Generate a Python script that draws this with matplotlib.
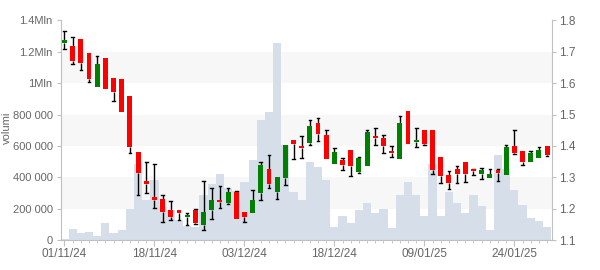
import matplotlib
matplotlib.use("Agg")
import matplotlib.pyplot as plt
import numpy as np

plt.rcParams['font.family'] = ['Liberation Sans', 'DejaVu Sans']

# ---- data ----
opens = [1.727, 1.719, 1.741, 1.697, 1.589, 1.681, 1.617, 1.613, 1.559, 1.380,
         1.287, 1.238, 1.232, 1.196, 1.196, 1.172, 1.196, 1.148, 1.195, 1.229,
         1.217, 1.252, 1.188, 1.185, 1.249, 1.325, 1.253, 1.297, 1.418, 1.401,
         1.409, 1.472, 1.434, 1.342, 1.354, 1.386, 1.316, 1.336, 1.433, 1.424,
         1.385, 1.358, 1.511, 1.413, 1.450, 1.450, 1.364, 1.306, 1.325, 1.348,
         1.325, 1.310, 1.299, 1.322, 1.308, 1.401, 1.383, 1.350, 1.361, 1.401]
closes = [1.737, 1.672, 1.666, 1.614, 1.661, 1.582, 1.573, 1.509, 1.397, 1.313,
          1.278, 1.227, 1.188, 1.173, 1.186, 1.181, 1.153, 1.188, 1.228, 1.222,
          1.252, 1.166, 1.173, 1.228, 1.338, 1.278, 1.300, 1.402, 1.406, 1.393,
          1.465, 1.438, 1.358, 1.382, 1.339, 1.336, 1.361, 1.444, 1.426, 1.400,
          1.377, 1.472, 1.406, 1.419, 1.405, 1.323, 1.304, 1.281, 1.310, 1.310,
          1.319, 1.322, 1.310, 1.313, 1.396, 1.377, 1.349, 1.376, 1.386, 1.370]
highs = [1.766, 1.747, 1.741, 1.697, 1.686, 1.681, 1.617, 1.613, 1.559, 1.380,
         1.350, 1.343, 1.244, 1.225, 1.196, 1.185, 1.199, 1.289, 1.266, 1.273,
         1.266, 1.256, 1.188, 1.260, 1.350, 1.370, 1.300, 1.402, 1.418, 1.431,
         1.482, 1.488, 1.450, 1.392, 1.360, 1.386, 1.365, 1.450, 1.456, 1.436,
         1.399, 1.497, 1.511, 1.456, 1.450, 1.450, 1.364, 1.321, 1.337, 1.348,
         1.327, 1.329, 1.327, 1.327, 1.403, 1.450, 1.383, 1.385, 1.396, 1.401]
lows = [1.710, 1.660, 1.641, 1.603, 1.589, 1.582, 1.544, 1.509, 1.379, 1.244,
        1.250, 1.201, 1.157, 1.164, 1.164, 1.148, 1.150, 1.132, 1.166, 1.202,
        1.214, 1.166, 1.158, 1.185, 1.228, 1.266, 1.230, 1.276, 1.358, 1.363,
        1.403, 1.416, 1.358, 1.342, 1.324, 1.304, 1.313, 1.336, 1.404, 1.379,
        1.365, 1.358, 1.406, 1.396, 1.404, 1.311, 1.282, 1.262, 1.282, 1.286,
        1.306, 1.295, 1.299, 1.289, 1.308, 1.374, 1.340, 1.350, 1.361, 1.369]
volumes = [9000, 68000, 43000, 49000, 28000, 107000, 43000, 62000, 200000, 483000,
           253000, 380000, 209000, 189000, 127000, 90000, 85000, 285000, 356000, 423000,
           331000, 312000, 373000, 508000, 768000, 815000, 1259000, 604000, 309000, 252000,
           499000, 463000, 380000, 85000, 156000, 107000, 194000, 235000, 171000, 198000,
           77000, 284000, 367000, 284000, 156000, 482000, 156000, 303000, 239000, 175000,
           284000, 220000, 66000, 540000, 450000, 322000, 226000, 143000, 124000, 85000]
date_tick_idx = [0, 11, 22, 33, 44, 55]
date_tick_labels = ['01/11/24', '18/11/24', '03/12/24', '18/12/24', '09/01/25', '24/01/25']
vol_ticks = [0, 200000, 400000, 600000, 800000, 1000000, 1200000, 1400000]
vol_tick_labels = ['0', '200 000', '400 000', '600 000', '800 000', '1Mln', '1.2Mln', '1.4Mln']
price_ticks = [1.1, 1.2, 1.3, 1.4, 1.5, 1.6, 1.7, 1.8]

# ---- style ----
TXT = '#666666'
AXC = '#c0c0c0'
UP = '#008000'
DOWN = '#ff0000'
VOLC = '#d6dfe9'
BAND = '#f7f7f7'

fig = plt.figure(figsize=(6, 2.7), dpi=100)
ax = fig.add_axes([0.1017, 0.1111, 0.8183, 0.8130])
x = np.arange(len(volumes))

# alternating bands
for i in range(1, len(vol_ticks) - 1, 2):
    ax.axhspan(vol_ticks[i], vol_ticks[i + 1], color=BAND, zorder=0, lw=0)

ax.bar(x, volumes, width=1.0, color=VOLC, zorder=1, lw=0)
ax.set_ylim(0, 1400000)
ax.set_xlim(-0.42, 59.6)
ax.set_yticks(vol_ticks)
ax.set_yticklabels(vol_tick_labels)
fig.text(7 / 600, 1 - 128 / 270, 'volumi', color=TXT, fontsize=8,
         rotation=90, ha='center', va='center')

ax2 = ax.twinx()
ax2.set_ylim(1.1, 1.8)
ax2.set_yticks(price_ticks)
ax2.set_yticklabels([f'{t:.1f}' for t in price_ticks])

body_w = 0.6
cap_w = 0.16
for i in x:
    o, c, h, l = opens[i], closes[i], highs[i], lows[i]
    col = UP if c >= o else DOWN
    top, bot = max(o, c), min(o, c)
    if h > top + 1e-6:
        ax2.plot([i, i], [top, h], color='black', lw=1.0, zorder=2, solid_capstyle='butt')
        ax2.plot([i - cap_w, i + cap_w], [h, h], color='black', lw=1.0, zorder=2)
    if l < bot - 1e-6:
        ax2.plot([i, i], [l, bot], color='black', lw=1.0, zorder=2, solid_capstyle='butt')
        ax2.plot([i - cap_w, i + cap_w], [l, l], color='black', lw=1.0, zorder=2)
    ax2.bar(i, max(top - bot, 0.004), bottom=bot if top - bot >= 0.004 else (top + bot) / 2 - 0.002,
            width=body_w, color=col, lw=0, zorder=3)

for a in (ax, ax2):
    for s in a.spines.values():
        s.set_visible(False)
ax.spines['left'].set_visible(True)
ax.spines['left'].set_color(AXC)
ax.spines['bottom'].set_visible(True)
ax.spines['bottom'].set_color(AXC)
ax2.spines['right'].set_visible(True)
ax2.spines['right'].set_color(AXC)

ax.set_xticks(date_tick_idx)
ax.set_xticklabels(date_tick_labels)
ax.set_xticks(x, minor=True)
ax.tick_params(axis='x', which='major', length=4, color=AXC, labelcolor=TXT, labelsize=8.5, pad=2)
ax.tick_params(axis='x', which='minor', length=2.5, color=AXC)
ax.tick_params(axis='y', length=3, color=AXC, labelcolor=TXT, labelsize=8, pad=3)
ax2.tick_params(axis='y', length=3, color=AXC, labelcolor=TXT, labelsize=8.5, pad=2)

fig.savefig('out.png', dpi=100, facecolor='white')
